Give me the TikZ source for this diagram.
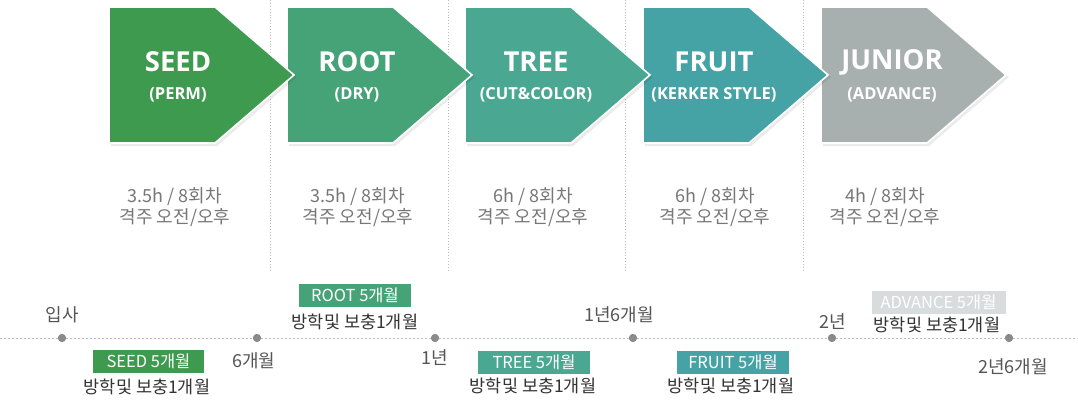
\documentclass[tikz,border=0pt]{standalone}
\usepackage{fontspec}
\setmainfont{Open Sans}
\newfontfamily\kr{Noto Sans CJK KR}
\definecolor{cseed}{HTML}{3E9A4E}
\definecolor{croot}{HTML}{46A377}
\definecolor{ctree}{HTML}{4AA892}
\definecolor{cfruit}{HTML}{45A2A5}
\definecolor{cjunior}{HTML}{A8B0AF}
\definecolor{cadv}{HTML}{D9DCDC}
\definecolor{infogray}{HTML}{777777}
\definecolor{tlgray}{HTML}{555555}
\definecolor{notedark}{HTML}{333333}
\definecolor{dotgray}{HTML}{8A8A8A}
\definecolor{sepgray}{HTML}{BBBBBB}
\tikzset{
  chev/.style={line width=1.6pt, draw=white, line join=miter},
  shadowfill/.style={fill=black, opacity=0.08},
  ttl/.style={text=white, font=\bfseries\fontsize{27.5}{27.5}\selectfont, inner sep=0},
  subt/.style={text=white, font=\bfseries\fontsize{16.5}{16.5}\selectfont, inner sep=0},
  info/.style={text=infogray, font=\kr\fontsize{18}{21}\selectfont, align=center, inner sep=0},
  tl/.style={text=tlgray, font=\kr\fontsize{18}{18}\selectfont, inner sep=0},
  tag/.style={text=white, font=\kr\fontsize{16.5}{16.5}\selectfont, minimum height=23pt, inner sep=0},
  note/.style={text=notedark, font=\kr\fontsize{17.5}{17.5}\selectfont, inner sep=0},
  tdot/.style={circle, fill=dotgray, minimum size=8pt, inner sep=0},
  sep/.style={draw=sepgray, dotted, line width=0.9pt},
  tline/.style={draw=sepgray, dash pattern=on 2pt off 2pt, line width=0.9pt},
}
\newcommand\chevshape[2]{%
  \fill[shadowfill] (#1+2,9) -- (#1+108,9) -- (#1+188,77) -- (#1+108,146) -- (#1+2,146) -- cycle;
  \filldraw[chev, fill=#2] (#1,7) -- (#1+106,7) -- (#1+185,75) -- (#1+106,143) -- (#1,143) -- cycle;}
\begin{document}
\begin{tikzpicture}[x=1pt,y=-1pt]
\useasboundingbox (0,0) rectangle (1078,400);
\fill[white] (0,0) rectangle (1078,400);
% separators
\foreach \sx in {270,448,625,803} \draw[sep] (\sx,0) -- (\sx,270);
% chevrons, right to left
\chevshape{821}{cjunior}
\chevshape{643}{cfruit}
\chevshape{465}{ctree}
\chevshape{287}{croot}
\chevshape{109}{cseed}
% titles
\node[ttl]  (t1) at (178,62) {SEED};
\node[subt] (s1) at (178,95) {(PERM)};
\node[ttl]  (t2) at (357,62) {ROOT};
\node[subt] (s2) at (357,95) {(DRY)};
\node[ttl]  (t3) at (536,62) {TREE};
\node[subt] (s3) at (536,95) {(CUT\&COLOR)};
\node[ttl]  (t4) at (714,62) {FRUIT};
\node[subt] (s4) at (714,95) {(KERKER STYLE)};
\node[ttl]  (t5) at (892,62) {JUNIOR};
\node[subt] (s5) at (892,95) {(ADVANCE)};
% info
\node[info] (i1) at (175,207) {3.5h / 8회차\\격주 오전/오후};
\node[info] (i2) at (358,207) {3.5h / 8회차\\격주 오전/오후};
\node[info] (i3) at (533,207) {6h / 8회차\\격주 오전/오후};
\node[info] (i4) at (715,207) {6h / 8회차\\격주 오전/오후};
\node[info] (i5) at (885,207) {4h / 8회차\\격주 오전/오후};
% timeline
\coordinate (tlA) at (0,338);
\coordinate (tlB) at (1078,338);
\node[tdot] (d1) at (62,338) {};
\node[tdot] (d2) at (257,338) {};
\node[tdot] (d3) at (435,338) {};
\node[tdot] (d4) at (633,338) {};
\node[tdot] (d5) at (832,338) {};
\node[tdot] (d6) at (1009,338) {};
\draw[tline] (tlA) -- (d1) -- (d2) -- (d3) -- (d4) -- (d5) -- (d6) -- (tlB);
\foreach \d in {d1,d2,d3,d4,d5,d6} \fill[dotgray] (\d) circle (4pt);
% timeline labels
\node[tl] (l1) at (62,315) {입사};
\node[tl] (l2) at (254,361) {6개월};
\node[tl] (l3) at (435,358) {1년};
\node[tl] (l4) at (619,315) {1년6개월};
\node[tl] (l5) at (833,322) {2년};
\node[tl] (l6) at (1013,367) {2년6개월};
% tags
\node[tag, fill=cseed,  minimum width=111pt] (g1) at (148.5,361.5) {SEED 5개월};
\node[note] (n1) at (147,387) {방학및 보충1개월};
\node[tag, fill=croot,  minimum width=112pt] (g2) at (355,295.5) {ROOT 5개월};
\node[note] (n2) at (355,322) {방학및 보충1개월};
\node[tag, fill=ctree,  minimum width=112pt] (g3) at (534,362.5) {TREE 5개월};
\node[note] (n3) at (533,386) {방학및 보충1개월};
\node[tag, fill=cfruit, minimum width=112pt] (g4) at (733,362.5) {FRUIT 5개월};
\node[note] (n4) at (731,386) {방학및 보충1개월};
\node[tag, fill=cadv,   minimum width=134pt] (g5) at (938.5,302) {ADVANCE 5개월};
\node[note] (n5) at (937,325) {방학및 보충1개월};
\end{tikzpicture}
\end{document}
